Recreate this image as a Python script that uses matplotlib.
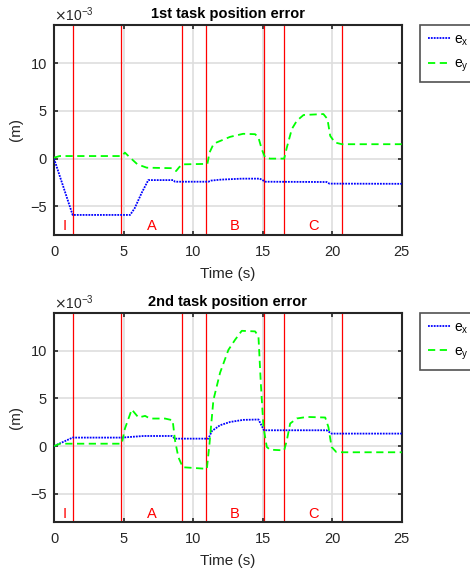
import matplotlib
matplotlib.use("Agg")
import matplotlib.pyplot as plt

plt.rcParams['font.family'] = ['Liberation Sans', 'DejaVu Sans']

# values in units of 1e-3 m
# 1st task
t_ex1 = [0, 1.34, 5.47, 5.8, 6.3, 6.78, 8.58, 8.7, 11.1, 11.3, 12.0, 13.5, 14.8, 15.2, 19.6, 19.8, 25]
ex1 = [0, -5.9, -5.9, -5.2, -3.6, -2.25, -2.25, -2.42, -2.42, -2.3, -2.2, -2.1, -2.1, -2.42, -2.45, -2.62, -2.64]

t_ey1 = [0, 0.4, 4.87, 5.1, 5.4, 6.0, 6.67, 8.47, 8.78, 9.0, 9.24, 11.03, 11.18, 11.46, 11.7, 12.66,
         13.6, 14.46, 14.7, 14.94, 15.18, 15.54, 16.55, 16.74, 17.1, 17.46, 17.94, 19.37, 19.66,
         19.86, 20.2, 20.7, 25]
ey1 = [0.1, 0.27, 0.27, 0.63, 0.2, -0.6, -0.95, -1.0, -1.3, -0.9, -0.6, -0.55, 0.63, 1.5, 1.7, 2.28,
       2.6, 2.56, 2.2, 0.98, 0.1, 0.0, 0.0, 1.16, 3.1, 3.97, 4.57, 4.67, 4.15,
       2.38, 1.69, 1.51, 1.51]

# 2nd task
t_ex2 = [0, 1.34, 4.87, 6.43, 8.47, 8.7, 11.1, 11.35, 11.94, 12.66, 13.6, 14.7, 15.1, 19.6, 19.96, 25]
ex2 = [0, 0.89, 0.89, 1.06, 1.06, 0.78, 0.78, 1.58, 2.19, 2.53, 2.75, 2.79, 1.66, 1.66, 1.31, 1.31]

t_ey2 = [0, 0.43, 4.87, 5.1, 5.59, 6.07, 6.55, 6.9, 7.98, 8.53, 8.7, 8.94, 9.26, 10.99, 11.18, 11.46,
         11.94, 12.54, 13.02, 13.5, 14.46, 14.7, 14.87, 15.06, 15.3, 15.54, 16.55, 16.74, 16.98,
         17.46, 18.18, 19.5, 19.73, 19.96, 20.3, 20.8, 25]
ey2 = [0, 0.25, 0.25, 1.84, 3.84, 3.0, 3.17, 2.89, 2.89, 2.71, 0.6, -1.16, -2.22, -2.39, 0.25, 4.83,
       7.7, 10.1, 11.16, 12.1, 12.04, 11.51, 6.59, 2.0, -0.1, -0.38, -0.45, 0.6, 2.37,
       2.9, 3.06, 3.0, 2.0, -0.1, -0.63, -0.65, -0.65]

phase_lines = [1.39, 4.82, 9.23, 10.96, 15.13, 16.55, 20.7]
phase_names = ['I', 'A', 'B', 'C']
phase_pos = [0.74, 7.0, 13.0, 18.65]

titles = ['1st task position error', '2nd task position error']
data = [(t_ex1, ex1, t_ey1, ey1), (t_ex2, ex2, t_ey2, ey2)]

dark = '#262626'
fig = plt.figure(figsize=(4.7, 5.72), dpi=100)
axes_boxes = [[0.1149, 0.5892, 0.7398, 0.3671], [0.1149, 0.0869, 0.7398, 0.3664]]
legend_tops = [1 - 25 / 572, 1 - 312.7 / 572]

for k in range(2):
    ax = fig.add_axes(axes_boxes[k])
    tx, x, ty, y = data[k]
    ax.grid(True, color='#dedede', linewidth=1.2, zorder=0)
    ax.set_axisbelow(True)
    lx, = ax.plot(tx, x, color='blue', linestyle=(0, (1, 0.6)), linewidth=1.3, label=r'$\mathregular{e_x}$', zorder=3)
    ly, = ax.plot(ty, y, color=(0, 1, 0), linestyle=(0, (4, 2.5)), linewidth=1.3, label=r'$\mathregular{e_y}$', zorder=3)
    for xv in phase_lines:
        ax.axvline(xv, color='red', linewidth=0.9, zorder=2)
    for name, xp in zip(phase_names, phase_pos):
        ax.text(xp, -7.1, name, color='red', fontsize=10.5, ha='center', va='center')
    ax.set_xlim(0, 25)
    ax.set_ylim(-8, 14)
    ax.set_xticks([0, 5, 10, 15, 20, 25])
    ax.set_yticks([-5, 0, 5, 10])
    ax.tick_params(direction='in', top=True, right=True, length=3, width=1.2,
                   labelsize=10.5, colors=dark, pad=5)
    ax.tick_params(axis='x', pad=7)
    for s in ax.spines.values():
        s.set_linewidth(1.5)
        s.set_color(dark)
    ax.set_title(titles[k], fontsize=10.5, fontweight='bold', pad=5)
    ax.set_xlabel('Time (s)', fontsize=11, color=dark, labelpad=6)
    ax.set_ylabel('(m)', fontsize=11, color=dark, labelpad=5)
    ax.text(0.0, 1.005, r'$\times\mathregular{10^{-3}}$', transform=ax.transAxes,
            fontsize=10, color=dark, ha='left', va='bottom')
    leg = fig.legend(handles=[lx, ly], loc='upper left', bbox_to_anchor=(420 / 470, legend_tops[k]),
                     borderaxespad=0, fontsize=10, frameon=True, fancybox=False, edgecolor=dark,
                     handlelength=1.7, handletextpad=0.2, borderpad=0.55, labelspacing=0.65,
                     handleheight=0.9)
    leg.get_frame().set_linewidth(1.2)

fig.savefig('out.png', dpi=100)
